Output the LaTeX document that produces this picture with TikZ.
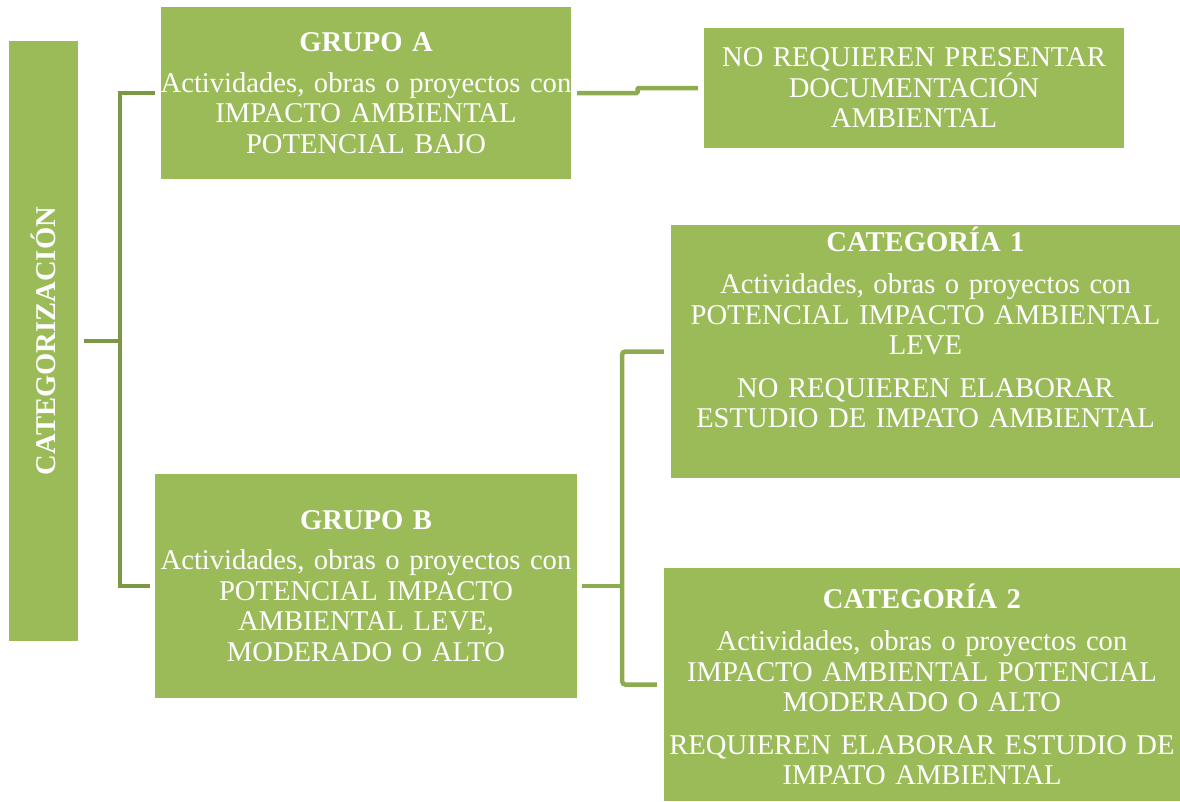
\documentclass[tikz,border=0pt]{standalone}
\usepackage{fontspec}
\setmainfont{Liberation Serif}
\usetikzlibrary{calc}
\definecolor{verde}{HTML}{9BBB59}
\definecolor{verdeL}{RGB}{124,152,68}
\definecolor{verdeR}{RGB}{141,172,80}

\begin{document}
\begin{tikzpicture}[x=1pt,y=-1pt,
	box/.style={fill=verde, text=white, inner ysep=0pt, inner xsep=-4pt, align=center,
		font=\fontsize{28.6}{30.5}\selectfont},
	linkL/.style={verdeL, line width=4.5pt},
	linkR/.style={verdeR, line width=4.5pt, rounded corners=3pt}]
	\useasboundingbox (0,0) rectangle (1180,801);

	% Riquadri
	\node[box, minimum width=69, minimum height=600] (cat) at (43.5,341)
		{\rotatebox{90}{\textbf{CATEGORIZACIÓN}}};
	\node[box, minimum width=410, minimum height=172, text width=418] (ga) at (366,93)
		{\textbf{GRUPO A}\\[10pt] Actividades, obras o proyectos con\\ IMPACTO AMBIENTAL\\ POTENCIAL BAJO};
	\node[box, minimum width=420, minimum height=120, text width=428] (nr) at (914,88)
		{NO REQUIEREN PRESENTAR\\ DOCUMENTACIÓN\\ AMBIENTAL};
	\node[box, minimum width=509, minimum height=253, text width=517] (c1) at (925.5,351.5)
		{\textbf{CATEGORÍA 1}\\[12pt] Actividades, obras o proyectos con\\ POTENCIAL IMPACTO AMBIENTAL\\ LEVE\\[12pt]
		NO REQUIEREN ELABORAR\\ ESTUDIO DE IMPATO AMBIENTAL\rule[-49pt]{0pt}{0pt}};
	\node[box, minimum width=422, minimum height=224, text width=430] (gb) at (366,586)
		{\textbf{GRUPO B}\\[10pt] Actividades, obras o proyectos con\\ POTENCIAL IMPACTO\\ AMBIENTAL LEVE,\\ MODERADO O ALTO};
	\node[box, minimum width=516, minimum height=233, text width=524] (c2) at (922,684.5)
		{\textbf{CATEGORÍA 2}\\[12pt] Actividades, obras o proyectos con\\ IMPACTO AMBIENTAL POTENCIAL\\ MODERADO O ALTO\\[12pt]
		REQUIEREN ELABORAR ESTUDIO DE\\ IMPATO AMBIENTAL};

	% Connettori
	\draw[linkL] ([xshift=6pt]cat.east) -- ++(36,0) coordinate (nodoA);
	\draw[linkL] ([xshift=-6pt]ga.west) -| (nodoA) |- ([xshift=-5pt]gb.west);
	\draw[linkR, rounded corners=1pt] ([xshift=6pt]ga.east) -| ($(ga.east)!0.5!(nr.west)$) |- ([xshift=-6pt]nr.west);
	\draw[linkR] ([xshift=5pt]gb.east) -- ++(40,0) coordinate (nodoB);
	\draw[linkR] ([xshift=-7pt]c1.west) -| (nodoB) |- ([xshift=-7pt]c2.west);
\end{tikzpicture}
\end{document}
